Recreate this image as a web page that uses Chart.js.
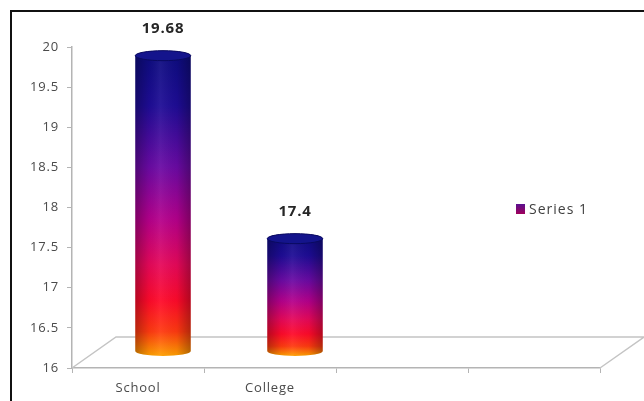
<!DOCTYPE html>
<html>
<head>
<meta charset="utf-8">
<script src="https://cdn.jsdelivr.net/npm/chart.js@4"></script>
<style>
    html, body { margin: 0; padding: 0; background: #fff; overflow: hidden; }
    #wrap { position: relative; width: 644px; height: 401px; }
    #chart { position: absolute; left: 0; top: 0; }
    .frame { position: absolute; left: 10px; top: 10px; width: 700px; height: 500px; border: 2px solid #111; box-sizing: border-box; }
    .legend { position: absolute; left: 516px; top: 199px; font: 14px "Open Sans", sans-serif; letter-spacing: 1px; color: #404040; display: flex; align-items: center; }
    .legend .sw { width: 9px; height: 10px; margin-right: 4px; background: linear-gradient(#5a1090, #a0005a); }
</style>
</head>
<body>
<div id="wrap">
    <canvas id="chart" width="644" height="401"></canvas>
    <div class="frame"></div>
    <div class="legend"><span class="sw"></span>Series 1</div>
</div>
<script>
// data
const categories = ['School', 'College', '', ''];
const series1 = [19.68, 17.4, null, null];
const yTicks = [16, 16.5, 17, 17.5, 18, 18.5, 19, 19.5, 20];

const FONT = '"Open Sans", sans-serif';
const AXIS_GREY = '#b4b4b4';

// 3d look: bars sit half way back on the floor
const BAR_DX = 25, BAR_DY = 17;
const FLOOR_DX = 44, FLOOR_DY = 31;

// the reference text is drawn a bit wide
const spacingPlugin = {
    id: 'spacing',
    beforeInit(chart) { chart.ctx.letterSpacing = '0.8px'; },
    beforeDraw(chart) { chart.ctx.letterSpacing = '0.8px'; }
};

const floorPlugin = {
    id: 'floor',
    beforeDatasetsDraw(chart) {
        const { ctx, chartArea: a } = chart;
        ctx.save();
        ctx.strokeStyle = '#c4c4c4';
        ctx.lineWidth = 1.5;
        ctx.beginPath();
        ctx.moveTo(a.left, a.bottom);
        ctx.lineTo(a.left + FLOOR_DX, a.bottom - FLOOR_DY);
        ctx.lineTo(a.right + FLOOR_DX, a.bottom - FLOOR_DY);
        ctx.lineTo(a.right, a.bottom);
        ctx.stroke();
        ctx.restore();
    }
};

const cylinderPlugin = {
    id: 'cylinders',
    afterDatasetsDraw(chart) {
        const { ctx } = chart;
        const yScale = chart.scales.y;
        const meta = chart.getDatasetMeta(0);
        meta.data.forEach((bar, i) => {
            if (series1[i] == null) return;
            const { x, y, width } = bar.getProps(['x', 'y', 'width'], true);
            const cx = x + BAR_DX;
            const top = y - BAR_DY;
            const bottom = yScale.getPixelForValue(yScale.min) - BAR_DY;
            const rx = width / 2;
            const ry = 5;
            const l = cx - rx, r = cx + rx;

            const grad = ctx.createLinearGradient(0, top - ry, 0, bottom + ry);
            grad.addColorStop(0, '#0c0c7e');
            grad.addColorStop(0.18, '#1e0c96');
            grad.addColorStop(0.38, '#6a0aa4');
            grad.addColorStop(0.55, '#b4008c');
            grad.addColorStop(0.7, '#e6085a');
            grad.addColorStop(0.82, '#ff0a2a');
            grad.addColorStop(0.92, '#ff3a10');
            grad.addColorStop(1, '#ffa000');

            ctx.save();
            ctx.beginPath();
            ctx.moveTo(l, top);
            ctx.lineTo(l, bottom);
            ctx.ellipse(cx, bottom, rx, ry, 0, Math.PI, 0, true);
            ctx.lineTo(r, top);
            ctx.ellipse(cx, top, rx, ry, 0, 0, Math.PI, true);
            ctx.closePath();
            ctx.fillStyle = grad;
            ctx.fill();

            // round shading across the cylinder
            const shade = ctx.createLinearGradient(l, 0, r, 0);
            shade.addColorStop(0, 'rgba(0,0,0,0.28)');
            shade.addColorStop(0.25, 'rgba(0,0,0,0.04)');
            shade.addColorStop(0.45, 'rgba(255,255,255,0.06)');
            shade.addColorStop(0.75, 'rgba(0,0,0,0.04)');
            shade.addColorStop(1, 'rgba(0,0,0,0.3)');
            ctx.fillStyle = shade;
            ctx.fill();

            // top cap
            ctx.beginPath();
            ctx.ellipse(cx, top, rx, ry, 0, 0, Math.PI * 2);
            ctx.fillStyle = '#14148c';
            ctx.fill();
            ctx.strokeStyle = '#0a0a60';
            ctx.lineWidth = 1;
            ctx.stroke();

            // value label
            ctx.fillStyle = '#262626';
            ctx.font = 'bold 15px ' + FONT;
            ctx.textAlign = 'center';
            ctx.textBaseline = 'bottom';
            ctx.fillText(String(series1[i]), cx, top - ry - 14);
            ctx.restore();
        });
    }
};

const chart = new Chart(document.getElementById('chart'), {
    type: 'bar',
    data: {
        labels: categories,
        datasets: [{
            label: 'Series 1',
            data: series1,
            backgroundColor: 'rgba(0,0,0,0)',
            borderWidth: 0,
            categoryPercentage: 1,
            barPercentage: 0.42
        }]
    },
    options: {
        responsive: false,
        animation: false,
        layout: { padding: { top: 47, right: 44, left: 0, bottom: 0 } },
        plugins: {
            legend: { display: false },
            tooltip: { enabled: false }
        },
        scales: {
            x: {
                afterFit: s => { s.height = 33; },
                grid: { drawOnChartArea: false, tickLength: 5, color: AXIS_GREY },
                border: { color: AXIS_GREY, width: 1.5 },
                ticks: { color: '#4a4a4a', padding: 7, font: { family: FONT, size: 13 } }
            },
            y: {
                min: yTicks[0],
                max: yTicks[yTicks.length - 1],
                afterFit: s => { s.width = 72; },
                afterBuildTicks: s => { s.ticks = yTicks.map(v => ({ value: v })); },
                grid: { drawOnChartArea: false, tickLength: 5, color: AXIS_GREY },
                border: { color: AXIS_GREY, width: 1.5 },
                ticks: {
                    color: '#4a4a4a',
                    padding: 8,
                    font: { family: FONT, size: 13 },
                    callback: v => String(v)
                }
            }
        }
    },
    plugins: [spacingPlugin, floorPlugin, cylinderPlugin]
});
</script>
</body>
</html>
